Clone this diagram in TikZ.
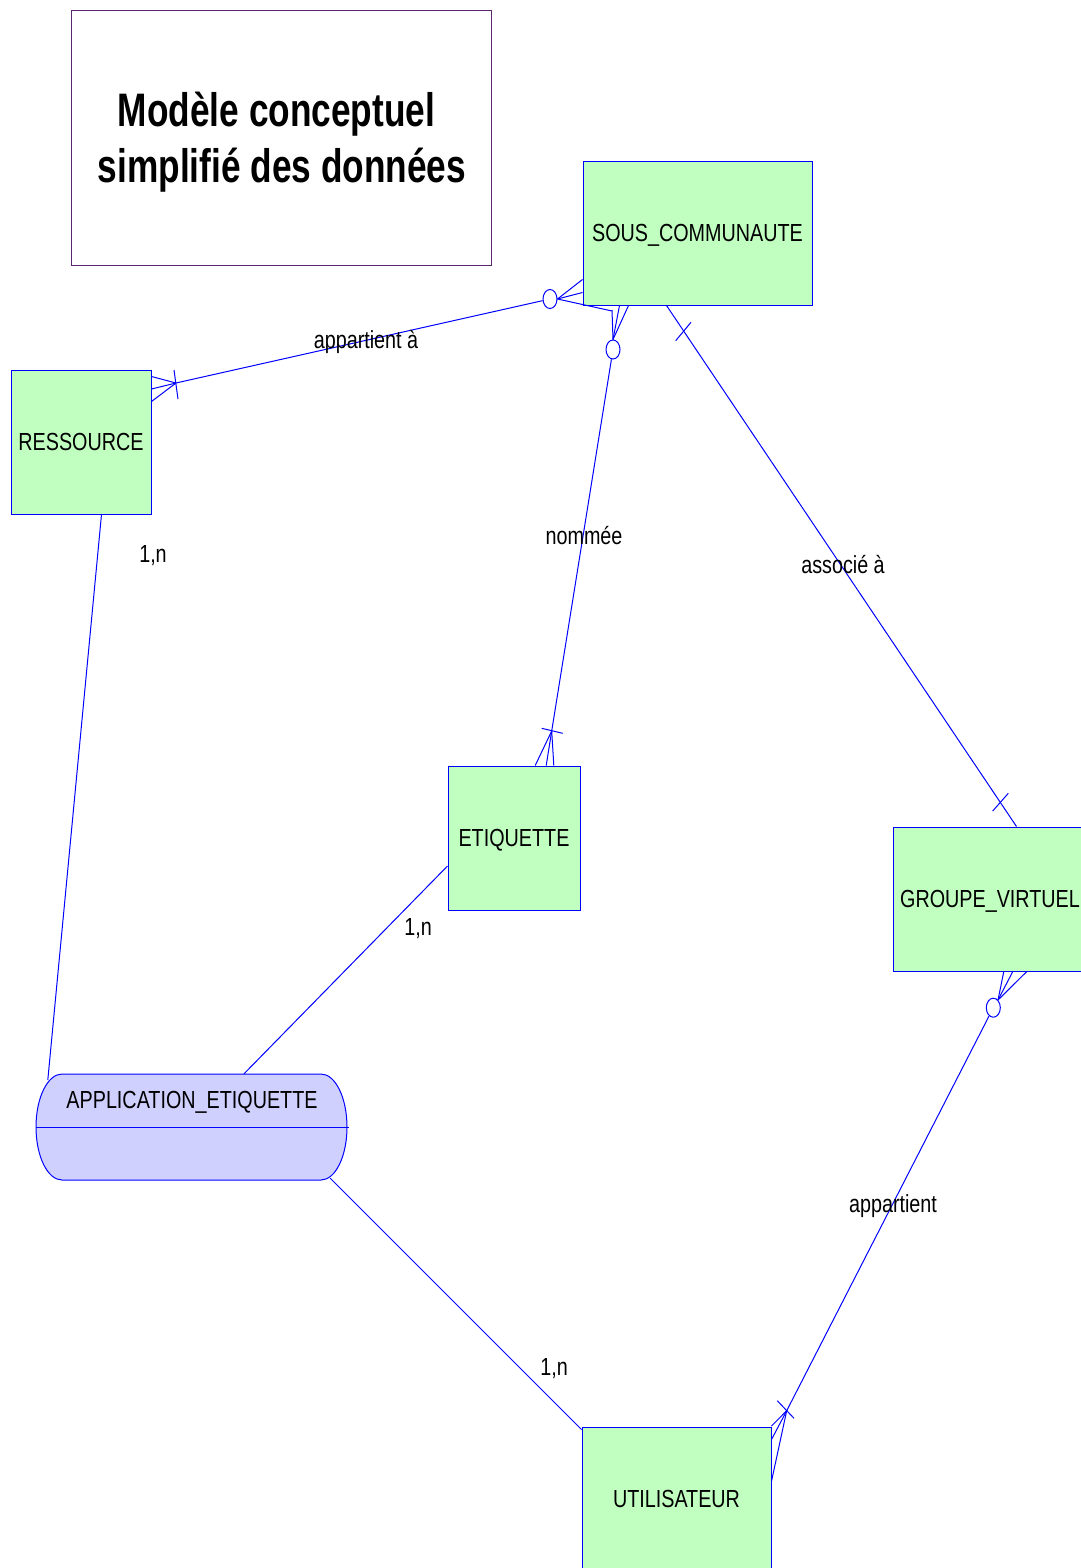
\documentclass[tikz,border=0pt]{standalone}
\usepackage{fontspec}
\usetikzlibrary{shapes.geometric,calc}
\setmainfont{Liberation Sans}
\newfontfamily\nf{Liberation Sans}[FakeStretch=0.8]
\newfontfamily\tf{Liberation Sans}[FakeStretch=0.75]
\definecolor{entfill}{RGB}{192,255,192}
\definecolor{assfill}{RGB}{208,208,255}
\definecolor{ln}{RGB}{0,0,255}
\definecolor{tbord}{RGB}{90,40,110}
\begin{document}
\begin{tikzpicture}[x=1pt,y=-1pt,
  entity/.style={draw=ln, fill=entfill, line width=1pt, inner sep=0pt, minimum height=144pt,
    text height=17.7pt, text depth=0pt, font=\nf\fontsize{24.7}{28}\selectfont},
  lbl/.style={anchor=base, inner sep=0pt, font=\nf\fontsize{24.7}{28}\selectfont},
  conn/.style={draw=ln, line width=1pt},
  optc/.style={draw=ln, fill=white, line width=1pt, ellipse, inner sep=0pt, minimum width=14pt, minimum height=19pt},
  ttl/.style={anchor=base, inner sep=0pt, font=\tf\bfseries\fontsize{47}{56}\selectfont}
]
\useasboundingbox (0,0) rectangle (1081,1568);
\clip (0,0) rectangle (1081,1568);
\fill[white] (0,0) rectangle (1081,1568);

% title
\node[draw=tbord, line width=1pt, minimum width=420pt, minimum height=254pt, inner sep=0pt] (titlebox) at (281,138) {};
\node[ttl] (t1) at (276.5,126.7) {Modèle conceptuel};
\node[ttl] (t2) at (282,182) {simplifié des données};

% entities
\node[entity, minimum width=229pt] (sc) at (697.5,233) {SOUS\_COMMUNAUTE};
\node[entity, minimum width=140pt] (res) at (81,442) {RESSOURCE};
\node[entity, minimum width=132pt] (eti) at (514,838) {ETIQUETTE};
\node[entity, minimum width=194pt] (gv) at (990,899) {GROUPE\_VIRTUEL};
\node[entity, minimum width=189pt] (ut) at (676.5,1499) {UTILISATEUR};

% association
\node[minimum width=311pt, minimum height=106pt, inner sep=0pt] (ae) at (191.5,1127) {};
\draw[draw=ln, fill=assfill, line width=1pt] (62,1074) -- (321,1074)
  arc[start angle=90, end angle=-90, x radius=26pt, y radius=53pt] -- (62,1180)
  arc[start angle=270, end angle=90, x radius=26pt, y radius=53pt] -- cycle;
\draw[conn] (ae.west) -- ([xshift=2pt]ae.east);
\node[lbl] (aet) at (192,1108) {APPLICATION\_ETIQUETTE};

% connector 1: RESSOURCE - SOUS_COMMUNAUTE
\coordinate (a1) at (176,383);
\node[optc] (c1) at (550,299) {};
\draw[conn] (a1) -- (c1);
\draw[conn] (a1) -- ($(res.north east)+(0,7)$);
\draw[conn] (a1) -- ($(res.north east)+(0,19.5)$);
\draw[conn] (a1) -- ($(res.north east)+(0,32)$);
\draw[conn] (174,370) -- (178,399);
\draw[conn] (c1.east) -- ($(sc.north west)+(0,119)$);
\draw[conn] (c1.east) -- ($(sc.north west)+(0,132)$);
\draw[conn] (c1.east) -- (612,311);

% connector 2: SOUS_COMMUNAUTE - ETIQUETTE
\node[optc] (c2) at (613,349.5) {};
\coordinate (a3) at (551.7,731);
\draw[conn] (c2.north) -- (612,310);
\draw[conn] (c2.north) -- ($(sc.south west)+(37,0)$);
\draw[conn] (c2.north) -- ($(sc.south west)+(46,0)$);
\draw[conn] (c2) -- (a3);
\draw[conn] (541.7,728.3) -- (562.7,733.3);
\draw[conn] (a3) -- ($(eti.north west)+(87.7,0)$);
\draw[conn] (a3) -- ($(eti.north west)+(98.7,0)$);
\draw[conn] (a3) -- ($(eti.north west)+(106.3,0)$);

% connector 3: SOUS_COMMUNAUTE - GROUPE_VIRTUEL
\draw[conn] ($(sc.south west)+(84,0)$) -- ($(gv.north west)+(124,0)$);
\draw[conn] (675.7,340.7) -- (691,322.3);
\draw[conn] (992.7,811) -- (1008.3,793.3);

% connector 4: GROUPE_VIRTUEL - UTILISATEUR
\node[optc] (c3) at (993.3,1007.7) {};
\coordinate (a5) at (998,1000);
\coordinate (a4) at (786.7,1410.7);
\draw[conn] (a5) -- ($(gv.south west)+(111.3,0)$);
\draw[conn] (a5) -- ($(gv.south west)+(120.3,0)$);
\draw[conn] (a5) -- ($(gv.south west)+(134.3,0)$);
\draw[conn] (c3) -- (a4);
\draw[conn] (777.3,1400.7) -- (794,1418.3);
\draw[conn] (a4) -- ($(ut.north east)+(0,-0.5)$);
\draw[conn] (a4) -- ($(ut.north east)+(0,13)$);
\draw[conn] (a4) -- ($(ut.north east)+(0,54.7)$);

% association links
\draw[conn] ($(res.south west)+(91,0)$) -- ($(ae.west)+(12,-47)$);
\draw[conn] ($(eti.west)+(0,28)$) -- ($(ae.north)+(52.5,0)$);
\draw[conn] ($(ae.south east)+(-17,-2)$) -- ($(ut.north west)+(0,3)$);

% labels
\node[lbl] (l1) at (366,348.3) {appartient à};
\node[lbl] (l2) at (153,562) {1,n};
\node[lbl] (l3) at (584,544) {nommée};
\node[lbl] (l4) at (843,573) {associé à};
\node[lbl] (l5) at (418,935) {1,n};
\node[lbl] (l6) at (893,1212) {appartient};
\node[lbl] (l7) at (554,1375) {1,n};
\end{tikzpicture}
\end{document}
